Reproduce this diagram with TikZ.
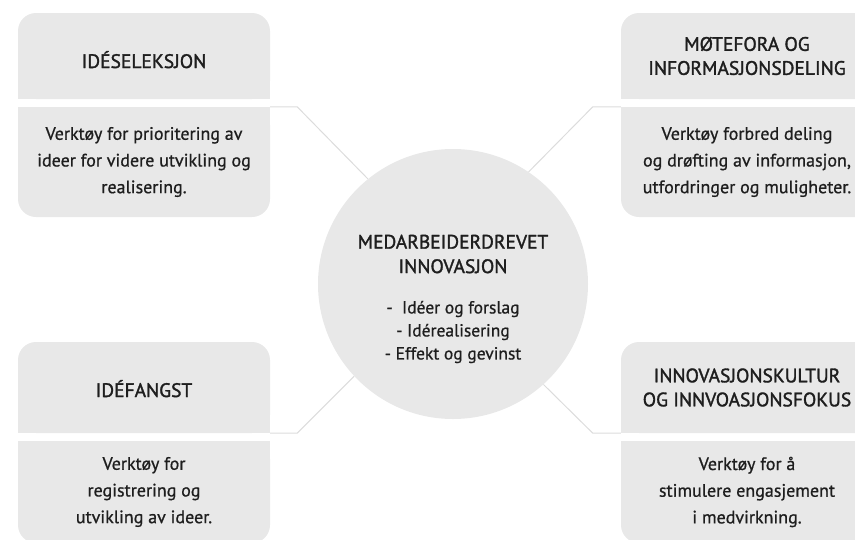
\documentclass[tikz,border=0pt]{standalone}
\usepackage{fontspec}
\setmainfont{PT Sans}
\newfontfamily\headfont[FakeBold=1.6]{PT Sans}
\newfontfamily\bodyfont[FakeBold=0.8]{PT Sans}
\definecolor{boxgray}{RGB}{232, 232, 232}
\definecolor{ink}{RGB}{30, 30, 30}
\definecolor{wire}{RGB}{220, 220, 220}
\usetikzlibrary{backgrounds}

\begin{document}
\begin{tikzpicture}[x=1pt, y=-1pt, inner sep=0pt, text=ink,
    head/.style={rectangle, fill=boxgray, rounded corners=18pt, minimum width=252pt,
                 align=center, font=\headfont\fontsize{19.5}{24}\selectfont},
    desc/.style={rectangle, fill=boxgray, rounded corners=18pt, minimum width=252pt,
                 align=center, font=\bodyfont\fontsize{18}{26.7}\selectfont},
    hub/.style={circle, fill=boxgray, minimum size=270pt},
    wire/.style={draw=wire, line width=1pt}]

\useasboundingbox (0,0) rectangle (855,539);
\clip (0,0) rectangle (855,539);

  % the hub
  \node[hub] (M) at (453, 284) {};
  \node[align=center, font=\headfont\fontsize{19.5}{24.5}\selectfont] (M_t) at (453, 254) {MEDARBEIDERDREVET\\INNOVASJON};
  \node[align=center, font=\bodyfont\fontsize{17.5}{23}\selectfont]   (M_i) at (453, 332) {-\ \ Idéer og forslag\\- Idérealisering\\- Effekt og gevinst};

  % the four boxes
  \node[head, minimum height=86pt, text height=24pt, text depth=0pt] (H_1) at (144, 56) {IDÉSELEKSJON};
  \node[desc, minimum height=110pt] (D_1) [below of=H_1, node distance=106pt] {Verktøy for prioritering av\\ideer for videre utvikling og\\realisering.};
  \node[head, minimum height=86pt]  (H_2) at (747, 56) {MØTEFORA OG\\INFORMASJONSDELING};
  \node[desc, minimum height=110pt] (D_2) [below of=H_2, node distance=106pt] {Verktøy forbred deling\\og drøfting av informasjon,\\utfordringer og muligheter.};
  \node[head, minimum height=91pt, text height=19pt, text depth=0pt] (H_3) at (144, 387.5) {IDÉFANGST};
  \node[desc, minimum height=102pt] (D_3) [below of=H_3, node distance=104.5pt] {Verktøy for\\registrering og\\utvikling av ideer.};
  \node[head, minimum height=91pt]  (H_4) at (747, 387.5) {INNOVASJONSKULTUR\\OG INNVOASJONSFOKUS};
  \node[desc, minimum height=102pt] (D_4) [below of=H_4, node distance=104.5pt] {Verktøy for å\\stimulere engasjement\\i medvirkning.};

  \begin{scope}[on background layer]
    % square off the inner corners
    \fill[boxgray] (H_1.west) rectangle (H_1.south east);
    \fill[boxgray] (H_2.west) rectangle (H_2.south east);
    \fill[boxgray] (H_3.west) rectangle (H_3.south east);
    \fill[boxgray] (H_4.west) rectangle (H_4.south east);
    \fill[boxgray] (D_1.north west) rectangle (D_1.east);
    \fill[boxgray] (D_2.north west) rectangle (D_2.east);
    \fill[boxgray] (D_3.north west) rectangle (D_3.east);
    \fill[boxgray] (D_4.north west) rectangle (D_4.east);

    \draw[wire] (D_1.north east) -- ++(27, 0) -- (M.129);
    \draw[wire] (D_2.north west) -- ++(-28, 0) -- (M.56);
    \draw[wire] (H_3.south east) -- ++(27, 0) -- (M.223);
    \draw[wire] (H_4.south west) -- ++(-28, 0) -- (M.312);
  \end{scope}

\end{tikzpicture}
\end{document}
